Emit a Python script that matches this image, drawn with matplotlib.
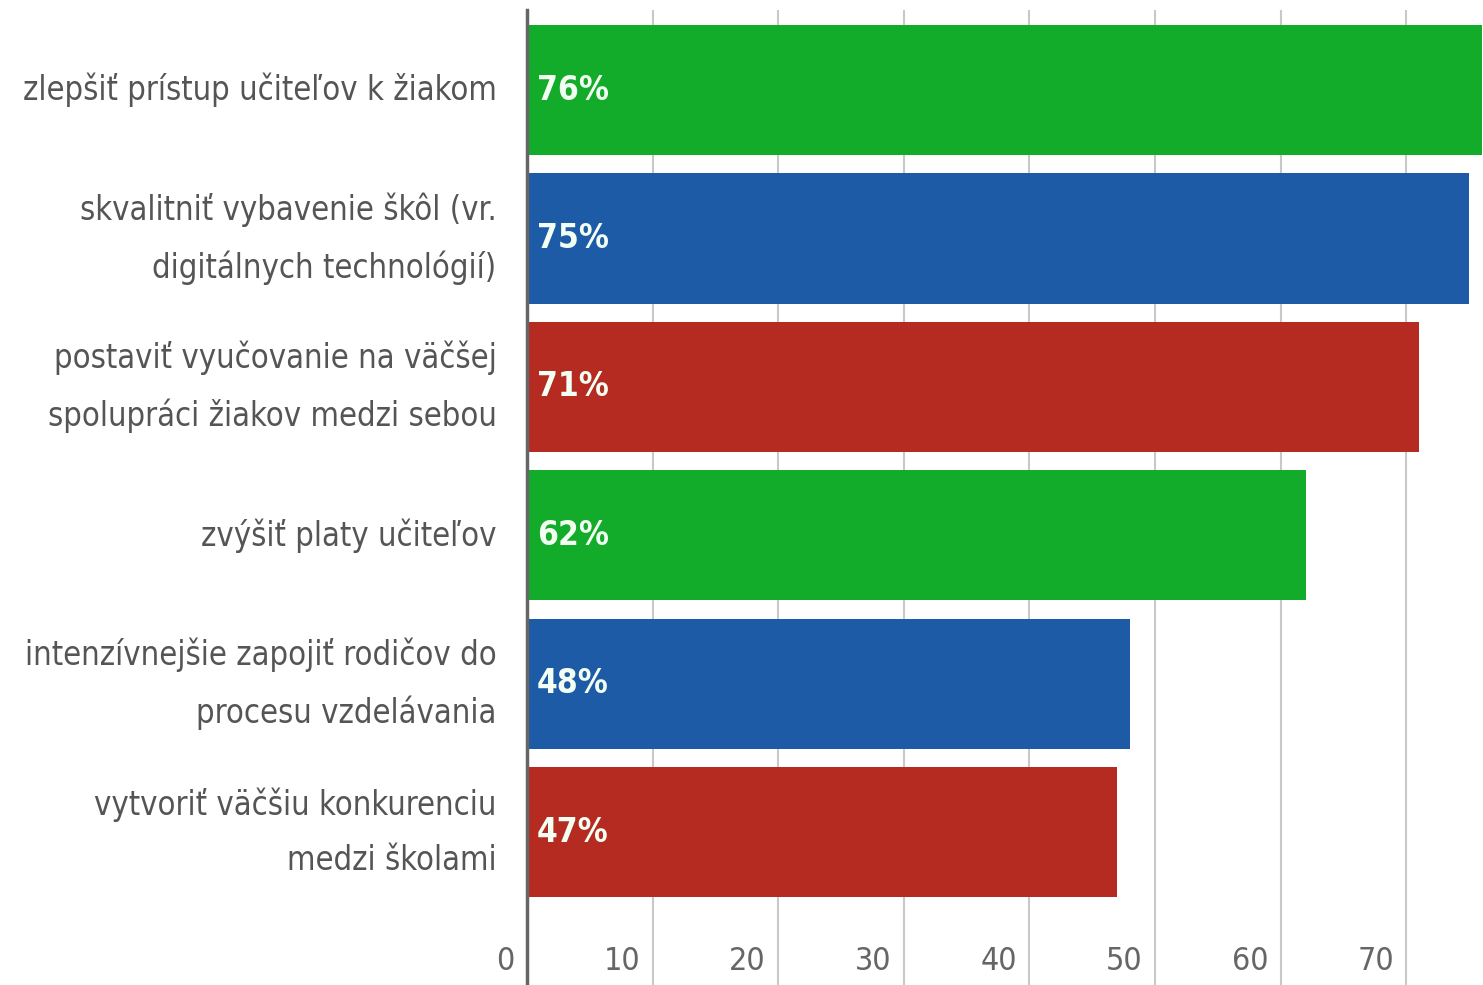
import matplotlib
matplotlib.use("Agg")
import matplotlib.pyplot as plt

categories = [
    "zlepšiť prístup učiteľov k žiakom",
    "skvalitniť vybavenie škôl (vr.\ndigitálnych technológií)",
    "postaviť vyučovanie na väčšej\nspolupráci žiakov medzi sebou",
    "zvýšiť platy učiteľov",
    "intenzívnejšie zapojiť rodičov do\nprocesu vzdelávania",
    "vytvoriť väčšiu konkurenciu\nmedzi školami",
]
values = [76, 75, 71, 62, 48, 47]
bar_colors = ["#12ab2a", "#1e5ba6", "#b52b22", "#12ab2a", "#1e5ba6", "#b52b22"]
xticks = [0, 10, 20, 30, 40, 50, 60, 70]

plt.rcParams['font.family'] = ['DejaVu Sans']

fig = plt.figure(figsize=(14.83, 9.85), dpi=100)
ax = fig.add_axes([527 / 1483, 0.0, 1 - 527 / 1483, 1 - 10 / 985])

ypos = list(range(len(values)))
ax.barh(ypos, values, height=0.877, color=bar_colors, zorder=3)

ax.set_xlim(0, 76.1)
ax.set_ylim(6.03, -0.54)

# vertical grid
for t in xticks[1:]:
    ax.axvline(t, color="#c8c8c8", lw=1.5, zorder=1)

for s in ["top", "right", "bottom"]:
    ax.spines[s].set_visible(False)
ax.spines["left"].set_color("#666666")
ax.spines["left"].set_linewidth(2.5)
ax.spines["left"].set_zorder(4)

ax.set_xticks([])
ax.set_yticks([])

# category labels
for y, lab in zip(ypos, categories):
    ax.annotate(lab, xy=(0, y), xycoords="data", xytext=(-22, 0),
                textcoords="offset points", ha="right", va="center",
                fontsize=23.5, fontstretch="condensed", color="#555555",
                linespacing=1.85)

# value labels
for y, v in zip(ypos, values):
    ax.annotate(f"{v}%", xy=(0, y), xytext=(7, 0), textcoords="offset points",
                ha="left", va="center", fontsize=24, fontweight="bold",
                fontstretch="condensed", color="#f2fff2", zorder=5)

# x tick labels left of each grid line
for t in xticks:
    ax.annotate(str(t), xy=(t, 5.87), xytext=(-9, 0), textcoords="offset points",
                ha="right", va="center", fontsize=23, fontstretch="condensed",
                color="#666666")

fig.savefig("out.png", dpi=100, facecolor="white")
